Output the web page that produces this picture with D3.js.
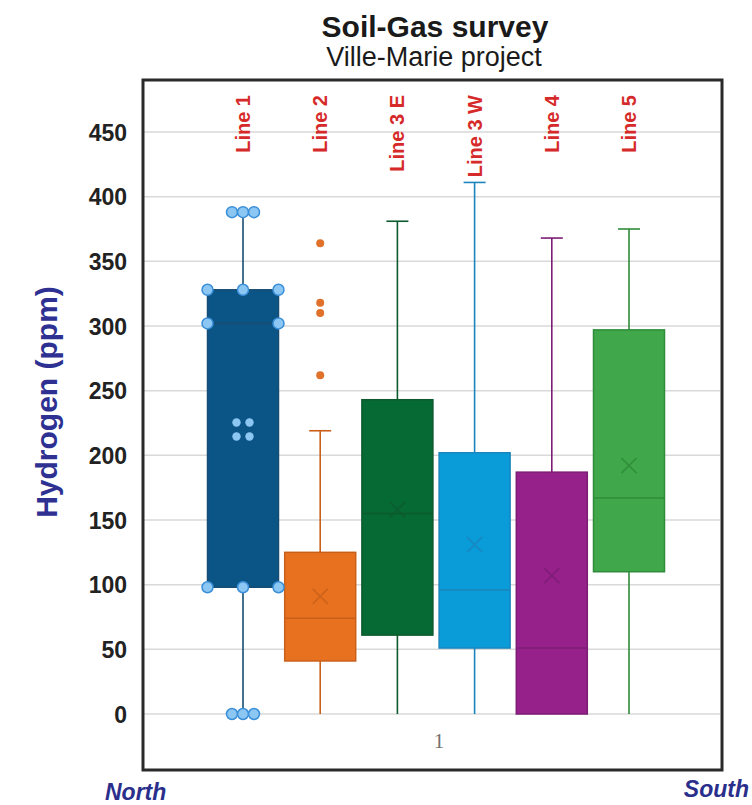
<!DOCTYPE html>
<html>
<head>
<meta charset="utf-8">
<script src="https://cdn.jsdelivr.net/npm/d3@7"></script>
<style>
  html, body { margin: 0; padding: 0; background: #ffffff; }
  svg { display: block; }
</style>
</head>
<body>
<svg id="chart" width="752" height="805"></svg>
<script>
// ---------------- data ----------------
const categories = ["Line 1", "Line 2", "Line 3 E", "Line 3 W", "Line 4", "Line 5"];
const minValues    = [0, 0, 0, 0, 0, 0];
const q1Values     = [98, 41, 61, 51, 0, 110];
const medianValues = [302, 74, 155, 96, 51, 167];
const q3Values     = [328, 125, 243, 202, 187, 297];
const maxValues    = [388, 219, 381, 411, 368, 375];
const meanValues   = [220, 91, 158, 131, 107, 192];
const outlierCategory = ["Line 2", "Line 2", "Line 2", "Line 2"];
const outlierValues   = [364, 318, 310, 262];
const yTicks = [0, 50, 100, 150, 200, 250, 300, 350, 400, 450];
const fills   = ["#0b5486", "#e8711f", "#066a35", "#0a9bd9", "#96218b", "#40a84a"];
const strokes = ["#174d72", "#c9601a", "#0d5a2e", "#1a86bd", "#7d1c74", "#2f8c3a"];

// ---------------- layout ----------------
const svg = d3.select("#chart");
const frame = { left: 143, top: 80, right: 722, bottom: 770 };

const y = d3.scaleLinear().domain([0, 450]).range([714, 132]);
const x = d3.scalePoint().domain(categories).range([243, 629]);
const boxW = 71, capW = 22;

// titles
svg.append("text").attr("x", 435).attr("y", 37).attr("text-anchor", "middle")
  .attr("font-family", "Liberation Sans, Arial, sans-serif").attr("font-weight", "bold")
  .attr("font-size", 30).attr("fill", "#1a1a1a").text("Soil-Gas survey");
svg.append("text").attr("x", 434).attr("y", 66).attr("text-anchor", "middle")
  .attr("font-family", "Liberation Sans, Arial, sans-serif")
  .attr("font-size", 27).attr("fill", "#1a1a1a").text("Ville-Marie project");

// gridlines
svg.append("g").selectAll("line").data(yTicks).join("line")
  .attr("x1", frame.left).attr("x2", frame.right - 2)
  .attr("y1", d => y(d)).attr("y2", d => y(d))
  .attr("stroke", "#d9d9d9").attr("stroke-width", 1.5);

// y axis labels
const yAxis = d3.axisLeft(y).tickValues(yTicks).tickSize(0).tickPadding(0);
const gy = svg.append("g").attr("transform", "translate(127,0)").call(yAxis);
gy.select(".domain").remove();
gy.selectAll("text").attr("font-family", "Liberation Sans, Arial, sans-serif")
  .attr("font-weight", "bold").attr("font-size", 23).attr("fill", "#222")
  .attr("dy", "0.36em");

// y axis title
svg.append("text").attr("transform", "translate(57,402) rotate(-90)")
  .attr("text-anchor", "middle").attr("font-family", "Liberation Sans, Arial, sans-serif")
  .attr("font-weight", "bold").attr("font-size", 30).attr("fill", "#2e3192")
  .text("Hydrogen (ppm)");

// boxes
const idx = d3.range(categories.length);
const g = svg.append("g");

// whiskers
g.selectAll(".whisker").data(idx).join("line")
  .attr("x1", i => x(categories[i])).attr("x2", i => x(categories[i]))
  .attr("y1", i => y(maxValues[i])).attr("y2", i => y(minValues[i]))
  .attr("stroke", i => strokes[i]).attr("stroke-width", 1.6);
// caps
g.selectAll(".capTop").data(idx).join("line")
  .attr("x1", i => x(categories[i]) - capW / 2).attr("x2", i => x(categories[i]) + capW / 2)
  .attr("y1", i => y(maxValues[i])).attr("y2", i => y(maxValues[i]))
  .attr("stroke", i => strokes[i]).attr("stroke-width", 1.6);

// box rects
g.selectAll(".box").data(idx).join("rect")
  .attr("x", i => x(categories[i]) - boxW / 2).attr("width", boxW)
  .attr("y", i => y(q3Values[i])).attr("height", i => y(q1Values[i]) - y(q3Values[i]))
  .attr("fill", i => fills[i]).attr("stroke", i => strokes[i]).attr("stroke-width", 1.5);

// medians
g.selectAll(".median").data(idx).join("line")
  .attr("x1", i => x(categories[i]) - boxW / 2).attr("x2", i => x(categories[i]) + boxW / 2)
  .attr("y1", i => y(medianValues[i])).attr("y2", i => y(medianValues[i]))
  .attr("stroke", i => strokes[i]).attr("stroke-width", 1.6);

// means (x markers), not for the selected Line 1 series
const mk = 7.5;
g.selectAll(".mean").data(idx.filter(i => i > 0)).join("path")
  .attr("d", i => {
    const cx = x(categories[i]), cy = y(meanValues[i]);
    return `M${cx - mk},${cy - mk}L${cx + mk},${cy + mk}M${cx - mk},${cy + mk}L${cx + mk},${cy - mk}`;
  })
  .attr("stroke", i => strokes[i]).attr("stroke-width", 1.7).attr("fill", "none").attr("opacity", 0.85);

// outliers
g.selectAll(".outlier").data(outlierValues).join("circle")
  .attr("cx", (d, j) => x(outlierCategory[j])).attr("cy", d => y(d)).attr("r", 4)
  .attr("fill", "#e0712a");

// selection handles on Line 1
const c0 = x(categories[0]);
const handleFill = "#8cc6f2", handleStroke = "#3a8fd9";
const handles = [];
[-11, 0, 11].forEach(dx => { handles.push([c0 + dx, y(maxValues[0])]); handles.push([c0 + dx, y(minValues[0])]); });
[-boxW / 2, 0, boxW / 2].forEach(dx => { handles.push([c0 + dx, y(q3Values[0])]); handles.push([c0 + dx, y(q1Values[0])]); });
[-boxW / 2, boxW / 2].forEach(dx => handles.push([c0 + dx, y(medianValues[0])]));
g.selectAll(".handle").data(handles).join("circle")
  .attr("cx", d => d[0]).attr("cy", d => d[1]).attr("r", 5.5)
  .attr("fill", handleFill).attr("stroke", handleStroke).attr("stroke-width", 1.5);
const meanDots = [];
[-6.5, 6.5].forEach(dx => [-7, 7].forEach(dy => meanDots.push([c0 + dx, y(meanValues[0]) + dy])));
g.selectAll(".mdot").data(meanDots).join("circle")
  .attr("cx", d => d[0]).attr("cy", d => d[1]).attr("r", 4.2).attr("fill", handleFill);

// category labels
svg.append("g").selectAll("text").data(categories).join("text")
  .attr("transform", d => `translate(${x(d) + 7},95) rotate(-90)`)
  .attr("text-anchor", "end")
  .attr("font-family", "Liberation Sans, Arial, sans-serif").attr("font-weight", "bold")
  .attr("font-size", 20).attr("fill", "#d62a2a").text(d => d);

// x category "1"
svg.append("text").attr("x", 439).attr("y", 748).attr("text-anchor", "middle")
  .attr("font-family", "Liberation Serif, Times New Roman, serif")
  .attr("font-size", 21).attr("fill", "#707070").text("1");

// frame
svg.append("rect").attr("x", frame.left).attr("y", frame.top)
  .attr("width", frame.right - frame.left).attr("height", frame.bottom - frame.top)
  .attr("fill", "none").attr("stroke", "#2a2a2a").attr("stroke-width", 3);

// North / South
svg.append("text").attr("x", 105).attr("y", 800)
  .attr("font-family", "Liberation Sans, Arial, sans-serif").attr("font-weight", "bold")
  .attr("font-style", "italic").attr("font-size", 23).attr("fill", "#2b2f8c").text("North");
svg.append("text").attr("x", 749).attr("y", 797).attr("text-anchor", "end")
  .attr("font-family", "Liberation Sans, Arial, sans-serif").attr("font-weight", "bold")
  .attr("font-style", "italic").attr("font-size", 23).attr("fill", "#2b2f8c").text("South");
</script>
</body>
</html>
